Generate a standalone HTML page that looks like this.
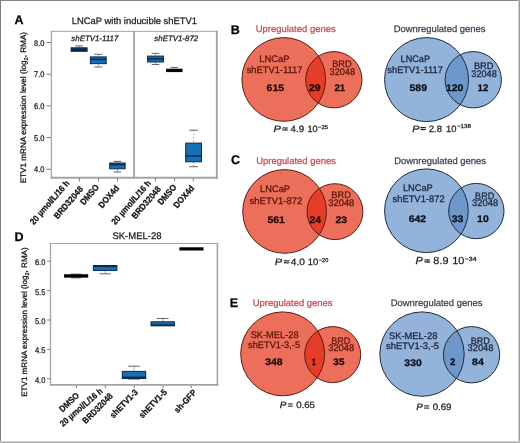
<!DOCTYPE html>
<html><head><meta charset="utf-8"><style>
html,body{margin:0;padding:0;background:#fff;}
svg{display:block;font-family:"Liberation Sans", sans-serif;text-rendering:geometricPrecision;}
</style></head><body>
<svg width="520" height="443" viewBox="0 0 520 443" xmlns="http://www.w3.org/2000/svg">
<rect width="520" height="443" fill="#fff"/>
<g style="filter:blur(0px)">
<rect x="0" y="0" width="1" height="443" fill="#7a7a7a"/>
<rect x="0" y="0" width="520" height="1" fill="#868686"/>
<rect x="518" y="0" width="1" height="443" fill="#cfcfcf"/>
<rect x="519" y="0" width="1" height="443" fill="#9c9c9c"/>
<rect x="0" y="441" width="520" height="1" fill="#d6d6d6"/>
<rect x="0" y="442" width="520" height="1" fill="#a4a4a7"/>
<text x="71.77" y="23.6" font-size="9.45" font-weight="normal" font-style="normal" text-anchor="start" fill="#1a1a1a" stroke="#1a1a1a" stroke-width="0.25" textLength="125.24" lengthAdjust="spacingAndGlyphs">LNCaP with inducible shETV1</text>
<line x1="51.4" y1="30.85" x2="51.4" y2="178.7" stroke="#a4a4a4" stroke-width="1.3"/>
<line x1="50.75" y1="31.35" x2="217.8" y2="31.35" stroke="#a4a4a4" stroke-width="1.0"/>
<line x1="216.85" y1="30.85" x2="216.85" y2="178.7" stroke="#a4a4a4" stroke-width="1.9"/>
<line x1="50.75" y1="177.8" x2="217.8" y2="177.8" stroke="#a4a4a4" stroke-width="1.9"/>
<line x1="134.1" y1="31.35" x2="134.1" y2="177.8" stroke="#a4a4a4" stroke-width="1.8"/>
<line x1="46.4" y1="42.5" x2="51" y2="42.5" stroke="#808080" stroke-width="1"/>
<text x="44.4" y="45.5" font-size="8.2" font-weight="normal" font-style="normal" text-anchor="end" fill="#1a1a1a" stroke="#1a1a1a" stroke-width="0.25" textLength="10.36" lengthAdjust="spacingAndGlyphs">8.0</text>
<line x1="46.4" y1="74.2" x2="51" y2="74.2" stroke="#808080" stroke-width="1"/>
<text x="44.4" y="77.2" font-size="8.2" font-weight="normal" font-style="normal" text-anchor="end" fill="#1a1a1a" stroke="#1a1a1a" stroke-width="0.25" textLength="10.36" lengthAdjust="spacingAndGlyphs">7.0</text>
<line x1="46.4" y1="105.85" x2="51" y2="105.85" stroke="#808080" stroke-width="1"/>
<text x="44.4" y="108.85" font-size="8.2" font-weight="normal" font-style="normal" text-anchor="end" fill="#1a1a1a" stroke="#1a1a1a" stroke-width="0.25" textLength="10.36" lengthAdjust="spacingAndGlyphs">6.0</text>
<line x1="46.4" y1="137.5" x2="51" y2="137.5" stroke="#808080" stroke-width="1"/>
<text x="44.4" y="140.5" font-size="8.2" font-weight="normal" font-style="normal" text-anchor="end" fill="#1a1a1a" stroke="#1a1a1a" stroke-width="0.25" textLength="10.36" lengthAdjust="spacingAndGlyphs">5.0</text>
<line x1="46.4" y1="169.2" x2="51" y2="169.2" stroke="#808080" stroke-width="1"/>
<text x="44.4" y="172.2" font-size="8.2" font-weight="normal" font-style="normal" text-anchor="end" fill="#1a1a1a" stroke="#1a1a1a" stroke-width="0.25" textLength="10.36" lengthAdjust="spacingAndGlyphs">4.0</text>
<text x="0" y="0" font-size="8" font-weight="normal" font-style="normal" text-anchor="middle" fill="#111" stroke="#111" stroke-width="0.25" transform="translate(26 107.66) rotate(-90) scale(1.02 1)">ETV1 mRNA expression level (log<tspan font-size="5.5" dy="1.5">2</tspan><tspan dy="-1.5">, RMA)</tspan></text>
<text x="71.3" y="41.1" font-size="7.9" font-weight="normal" font-style="italic" text-anchor="start" fill="#1a1a1a" stroke="#1a1a1a" stroke-width="0.25" >shETV1-1117</text>
<text x="154.3" y="41.1" font-size="7.9" font-weight="normal" font-style="italic" text-anchor="start" fill="#1a1a1a" stroke="#1a1a1a" stroke-width="0.25" >shETV1-872</text>
<line x1="79.4" y1="178" x2="79.4" y2="181.5" stroke="#808080" stroke-width="1"/>
<line x1="98.4" y1="178" x2="98.4" y2="181.5" stroke="#808080" stroke-width="1"/>
<line x1="117.5" y1="178" x2="117.5" y2="181.5" stroke="#808080" stroke-width="1"/>
<line x1="155.3" y1="178" x2="155.3" y2="181.5" stroke="#808080" stroke-width="1"/>
<line x1="174.6" y1="178" x2="174.6" y2="181.5" stroke="#808080" stroke-width="1"/>
<line x1="193.2" y1="178" x2="193.2" y2="181.5" stroke="#808080" stroke-width="1"/>
<line x1="79.1" y1="45.9" x2="79.1" y2="47.8" stroke="#8a8a8a" stroke-width="0.7" />
<line x1="75.19999999999999" y1="45.9" x2="83.0" y2="45.9" stroke="#4a4a4a" stroke-width="0.85"/>
<rect x="71.1" y="47.8" width="16.0" height="3.5" fill="#123c66" stroke="#0c2a4a" stroke-width="1.0"/>
<line x1="71.1" y1="50.0" x2="87.1" y2="50.0" stroke="#0c2a4a" stroke-width="2.2"/>
<line x1="98.30000000000001" y1="54.3" x2="98.30000000000001" y2="56.9" stroke="#8a8a8a" stroke-width="0.7" />
<line x1="94.30000000000001" y1="54.3" x2="102.30000000000001" y2="54.3" stroke="#4a4a4a" stroke-width="0.85"/>
<line x1="98.30000000000001" y1="63.65" x2="98.30000000000001" y2="67.0" stroke="#8a8a8a" stroke-width="0.7" />
<line x1="94.30000000000001" y1="67.0" x2="102.30000000000001" y2="67.0" stroke="#4a4a4a" stroke-width="0.85"/>
<rect x="90.4" y="56.9" width="15.799999999999997" height="6.75" fill="#1670b5" stroke="#0c2a4a" stroke-width="1.0"/>
<line x1="90.4" y1="59.4" x2="106.2" y2="59.4" stroke="#0c2a4a" stroke-width="1.5"/>
<line x1="117.42500000000001" y1="161.4" x2="117.42500000000001" y2="163.0" stroke="#8a8a8a" stroke-width="0.7" />
<line x1="113.62500000000001" y1="161.4" x2="121.22500000000001" y2="161.4" stroke="#4a4a4a" stroke-width="0.85"/>
<line x1="117.42500000000001" y1="168.8" x2="117.42500000000001" y2="172.0" stroke="#8a8a8a" stroke-width="0.7" />
<line x1="113.62500000000001" y1="172.0" x2="121.22500000000001" y2="172.0" stroke="#4a4a4a" stroke-width="0.85"/>
<rect x="109.7" y="163.0" width="15.450000000000003" height="5.800000000000011" fill="#1670b5" stroke="#0c2a4a" stroke-width="1.0"/>
<line x1="109.7" y1="164.6" x2="125.15" y2="164.6" stroke="#0c2a4a" stroke-width="1.5"/>
<line x1="155.5" y1="53.4" x2="155.5" y2="56.1" stroke="#8a8a8a" stroke-width="0.7" />
<line x1="151.7" y1="53.4" x2="159.3" y2="53.4" stroke="#4a4a4a" stroke-width="0.85"/>
<line x1="155.5" y1="62.0" x2="155.5" y2="64.5" stroke="#8a8a8a" stroke-width="0.7" />
<line x1="151.7" y1="64.5" x2="159.3" y2="64.5" stroke="#4a4a4a" stroke-width="0.85"/>
<rect x="147.6" y="56.1" width="15.800000000000011" height="5.899999999999999" fill="#1670b5" stroke="#0c2a4a" stroke-width="1.0"/>
<line x1="147.6" y1="58.9" x2="163.4" y2="58.9" stroke="#0c2a4a" stroke-width="1.5"/>
<line x1="174.3" y1="67.4" x2="174.3" y2="69.2" stroke="#8a8a8a" stroke-width="0.7" />
<line x1="170.8" y1="67.4" x2="177.8" y2="67.4" stroke="#4a4a4a" stroke-width="0.85"/>
<rect x="166.6" y="69.2" width="15.400000000000006" height="2.3999999999999915" fill="#0a0a0a" stroke="#000" stroke-width="1.0"/>
<line x1="166.6" y1="70.4" x2="182.0" y2="70.4" stroke="#000" stroke-width="1.5"/>
<line x1="193.6" y1="130.2" x2="193.6" y2="143.1" stroke="#555" stroke-width="0.7" stroke-dasharray="1.2,2.2"/>
<line x1="189.2" y1="130.2" x2="198.0" y2="130.2" stroke="#4a4a4a" stroke-width="0.85"/>
<line x1="193.6" y1="161.8" x2="193.6" y2="166.7" stroke="#555" stroke-width="0.7" stroke-dasharray="1.2,2.2"/>
<line x1="189.2" y1="166.7" x2="198.0" y2="166.7" stroke="#4a4a4a" stroke-width="0.85"/>
<rect x="185.7" y="143.1" width="15.800000000000011" height="18.700000000000017" fill="#1670b5" stroke="#0c2a4a" stroke-width="1.0"/>
<line x1="185.7" y1="156" x2="201.5" y2="156" stroke="#0c2a4a" stroke-width="1.5"/>
<text x="70.0" y="183.5" font-size="8.8" font-weight="bold" font-style="normal" text-anchor="end" fill="#111" stroke="#111" stroke-width="0.25" textLength="55.30" lengthAdjust="spacingAndGlyphs" transform="rotate(-49 70.0 183.5)">20 µmol/L/16 h</text>
<text x="83.7" y="189.5" font-size="8.8" font-weight="bold" font-style="normal" text-anchor="end" fill="#111" stroke="#111" stroke-width="0.25" textLength="39.58" lengthAdjust="spacingAndGlyphs" transform="rotate(-49 83.7 189.5)">BRD32048</text>
<text x="99.7" y="187.5" font-size="8.8" font-weight="bold" font-style="normal" text-anchor="end" fill="#111" stroke="#111" stroke-width="0.25" textLength="24.00" lengthAdjust="spacingAndGlyphs" transform="rotate(-49 99.7 187.5)">DMSO</text>
<text x="119.7" y="188.5" font-size="8.8" font-weight="bold" font-style="normal" text-anchor="end" fill="#111" stroke="#111" stroke-width="0.25" textLength="26.67" lengthAdjust="spacingAndGlyphs" transform="rotate(-49 119.7 188.5)">DOX4d</text>
<text x="151.5" y="183.5" font-size="8.8" font-weight="bold" font-style="normal" text-anchor="end" fill="#111" stroke="#111" stroke-width="0.25" textLength="55.30" lengthAdjust="spacingAndGlyphs" transform="rotate(-49 151.5 183.5)">20 µmol/L/16 h</text>
<text x="161.4" y="189.5" font-size="8.8" font-weight="bold" font-style="normal" text-anchor="end" fill="#111" stroke="#111" stroke-width="0.25" textLength="39.58" lengthAdjust="spacingAndGlyphs" transform="rotate(-49 161.4 189.5)">BRD32048</text>
<text x="177.2" y="187.5" font-size="8.8" font-weight="bold" font-style="normal" text-anchor="end" fill="#111" stroke="#111" stroke-width="0.25" textLength="24.00" lengthAdjust="spacingAndGlyphs" transform="rotate(-49 177.2 187.5)">DMSO</text>
<text x="194.8" y="188.5" font-size="8.8" font-weight="bold" font-style="normal" text-anchor="end" fill="#111" stroke="#111" stroke-width="0.25" textLength="26.67" lengthAdjust="spacingAndGlyphs" transform="rotate(-49 194.8 188.5)">DOX4d</text>
<text x="112.42" y="238.5" font-size="9.5" font-weight="normal" font-style="normal" text-anchor="start" fill="#1a1a1a" stroke="#1a1a1a" stroke-width="0.25" textLength="49.24" lengthAdjust="spacingAndGlyphs">SK-MEL-28</text>
<line x1="50.5" y1="243" x2="50.5" y2="385.8" stroke="#a4a4a4" stroke-width="1.3"/>
<line x1="49.85" y1="243.5" x2="218.3" y2="243.5" stroke="#a4a4a4" stroke-width="1.1"/>
<line x1="217.4" y1="243" x2="217.4" y2="385.8" stroke="#a4a4a4" stroke-width="1.6"/>
<line x1="49.85" y1="384.85" x2="218.3" y2="384.85" stroke="#a4a4a4" stroke-width="1.9"/>
<line x1="47.1" y1="261.2" x2="50.3" y2="261.2" stroke="#808080" stroke-width="1"/>
<text x="45.3" y="265.09999999999997" font-size="8.2" font-weight="normal" font-style="normal" text-anchor="end" fill="#1a1a1a" stroke="#1a1a1a" stroke-width="0.25" textLength="10.36" lengthAdjust="spacingAndGlyphs">6.0</text>
<line x1="47.1" y1="290.6" x2="50.3" y2="290.6" stroke="#808080" stroke-width="1"/>
<text x="45.3" y="294.5" font-size="8.2" font-weight="normal" font-style="normal" text-anchor="end" fill="#1a1a1a" stroke="#1a1a1a" stroke-width="0.25" textLength="10.36" lengthAdjust="spacingAndGlyphs">5.5</text>
<line x1="47.1" y1="320.0" x2="50.3" y2="320.0" stroke="#808080" stroke-width="1"/>
<text x="45.3" y="323.9" font-size="8.2" font-weight="normal" font-style="normal" text-anchor="end" fill="#1a1a1a" stroke="#1a1a1a" stroke-width="0.25" textLength="10.36" lengthAdjust="spacingAndGlyphs">5.0</text>
<line x1="47.1" y1="349.4" x2="50.3" y2="349.4" stroke="#808080" stroke-width="1"/>
<text x="45.3" y="353.29999999999995" font-size="8.2" font-weight="normal" font-style="normal" text-anchor="end" fill="#1a1a1a" stroke="#1a1a1a" stroke-width="0.25" textLength="10.36" lengthAdjust="spacingAndGlyphs">4.5</text>
<line x1="47.1" y1="378.8" x2="50.3" y2="378.8" stroke="#808080" stroke-width="1"/>
<text x="45.3" y="382.7" font-size="8.2" font-weight="normal" font-style="normal" text-anchor="end" fill="#1a1a1a" stroke="#1a1a1a" stroke-width="0.25" textLength="10.36" lengthAdjust="spacingAndGlyphs">4.0</text>
<text x="0" y="0" font-size="7.9" font-weight="normal" font-style="normal" text-anchor="middle" fill="#111" stroke="#111" stroke-width="0.25" transform="translate(27 322.05) rotate(-90) scale(1.02 1)">ETV1 mRNA expression level (log<tspan font-size="5.5" dy="1.5">2</tspan><tspan dy="-1.5">, RMA)</tspan></text>
<line x1="76.4" y1="385.5" x2="76.4" y2="388.2" stroke="#808080" stroke-width="1"/>
<line x1="105.4" y1="385.5" x2="105.4" y2="388.2" stroke="#808080" stroke-width="1"/>
<line x1="134.2" y1="385.5" x2="134.2" y2="388.2" stroke="#808080" stroke-width="1"/>
<line x1="163.1" y1="385.5" x2="163.1" y2="388.2" stroke="#808080" stroke-width="1"/>
<line x1="191.3" y1="385.5" x2="191.3" y2="388.2" stroke="#808080" stroke-width="1"/>
<line x1="76.15" y1="274.1" x2="76.15" y2="274.8" stroke="#8a8a8a" stroke-width="0.7" />
<line x1="71.0" y1="274.1" x2="81.30000000000001" y2="274.1" stroke="#4a4a4a" stroke-width="0.85"/>
<line x1="76.15" y1="277.1" x2="76.15" y2="277.9" stroke="#8a8a8a" stroke-width="0.7" />
<line x1="71.0" y1="277.9" x2="81.30000000000001" y2="277.9" stroke="#4a4a4a" stroke-width="0.85"/>
<rect x="64.6" y="274.8" width="23.10000000000001" height="2.3000000000000114" fill="#0a0a0a" stroke="#000" stroke-width="1.0"/>
<line x1="64.6" y1="275.95" x2="87.7" y2="275.95" stroke="#000" stroke-width="1.5"/>
<line x1="105.15" y1="270.4" x2="105.15" y2="273.8" stroke="#8a8a8a" stroke-width="0.7" />
<line x1="99.4" y1="273.8" x2="110.9" y2="273.8" stroke="#4a4a4a" stroke-width="0.85"/>
<rect x="93.4" y="265.5" width="23.5" height="4.899999999999977" fill="#1670b5" stroke="#0c2a4a" stroke-width="1.0"/>
<line x1="93.4" y1="266.3" x2="116.9" y2="266.3" stroke="#0c2a4a" stroke-width="1.5"/>
<line x1="134.0" y1="366.2" x2="134.0" y2="371.4" stroke="#8a8a8a" stroke-width="0.7" />
<line x1="128.2" y1="366.2" x2="139.8" y2="366.2" stroke="#4a4a4a" stroke-width="0.85"/>
<line x1="134.0" y1="378.5" x2="134.0" y2="379.1" stroke="#8a8a8a" stroke-width="0.7" />
<line x1="128.2" y1="379.1" x2="139.8" y2="379.1" stroke="#4a4a4a" stroke-width="0.85"/>
<rect x="122.3" y="371.4" width="23.39999999999999" height="7.100000000000023" fill="#1670b5" stroke="#0c2a4a" stroke-width="1.0"/>
<line x1="122.3" y1="377.3" x2="145.7" y2="377.3" stroke="#0c2a4a" stroke-width="1.5"/>
<line x1="162.7" y1="318.5" x2="162.7" y2="321.8" stroke="#8a8a8a" stroke-width="0.7" />
<line x1="156.85" y1="318.5" x2="168.54999999999998" y2="318.5" stroke="#4a4a4a" stroke-width="0.85"/>
<rect x="151.0" y="321.8" width="23.400000000000006" height="4.050000000000011" fill="#1670b5" stroke="#0c2a4a" stroke-width="1.0"/>
<line x1="151.0" y1="325.0" x2="174.4" y2="325.0" stroke="#0c2a4a" stroke-width="1.5"/>
<rect x="179.9" y="247.85" width="23.099999999999994" height="2.1500000000000057" fill="#0a0a0a" stroke="#000" stroke-width="1.0"/>
<line x1="179.9" y1="248.9" x2="203.0" y2="248.9" stroke="#000" stroke-width="1.5"/>
<text x="79.8" y="396.3" font-size="8.8" font-weight="bold" font-style="normal" text-anchor="end" fill="#111" stroke="#111" stroke-width="0.25" textLength="23.70" lengthAdjust="spacingAndGlyphs" transform="rotate(-43 79.8 396.3)">DMSO</text>
<text x="103.2" y="392.1" font-size="8.8" font-weight="bold" font-style="normal" text-anchor="end" fill="#111" stroke="#111" stroke-width="0.25" textLength="53.22" lengthAdjust="spacingAndGlyphs" transform="rotate(-41 103.2 392.1)">20 µmol/L/16 h</text>
<text x="113.5" y="396.6" font-size="8.8" font-weight="bold" font-style="normal" text-anchor="end" fill="#111" stroke="#111" stroke-width="0.25" textLength="39.08" lengthAdjust="spacingAndGlyphs" transform="rotate(-45 113.5 396.6)">BRD32048</text>
<text x="138.5" y="392.8" font-size="8.8" font-weight="bold" font-style="normal" text-anchor="end" fill="#111" stroke="#111" stroke-width="0.25" textLength="36.00" lengthAdjust="spacingAndGlyphs" transform="rotate(-46 138.5 392.8)">shETV1-3</text>
<text x="167.5" y="392.8" font-size="8.8" font-weight="bold" font-style="normal" text-anchor="end" fill="#111" stroke="#111" stroke-width="0.25" textLength="36.00" lengthAdjust="spacingAndGlyphs" transform="rotate(-46 167.5 392.8)">shETV1-5</text>
<text x="197" y="393" font-size="8.8" font-weight="bold" font-style="normal" text-anchor="end" fill="#111" stroke="#111" stroke-width="0.25" textLength="28.09" lengthAdjust="spacingAndGlyphs" transform="rotate(-47 197 393)">sh-GFP</text>
<text x="14.57" y="24.2" font-size="12.5" font-weight="bold" font-style="normal" text-anchor="start" fill="#000" stroke="#000" stroke-width="0.25" >A</text>
<text x="230.75" y="33.5" font-size="12.5" font-weight="bold" font-style="normal" text-anchor="start" fill="#000" stroke="#000" stroke-width="0.25" >B</text>
<text x="231.05" y="164.4" font-size="12.5" font-weight="bold" font-style="normal" text-anchor="start" fill="#000" stroke="#000" stroke-width="0.25" >C</text>
<text x="14.45" y="240.9" font-size="12.5" font-weight="bold" font-style="normal" text-anchor="start" fill="#000" stroke="#000" stroke-width="0.25" >D</text>
<text x="229.65" y="307.2" font-size="12.5" font-weight="bold" font-style="normal" text-anchor="start" fill="#000" stroke="#000" stroke-width="0.25" >E</text>
<text x="255.72" y="32.2" font-size="9.48" font-weight="normal" font-style="normal" text-anchor="start" fill="#c84a55" stroke="#c84a55" stroke-width="0.25" textLength="79.97" lengthAdjust="spacingAndGlyphs">Upregulated genes</text>
<text x="393.67" y="32.1" font-size="9.48" font-weight="normal" font-style="normal" text-anchor="start" fill="#3a4352" stroke="#3a4352" stroke-width="0.25" textLength="91.80" lengthAdjust="spacingAndGlyphs">Downregulated genes</text>
<text x="256.22" y="163.5" font-size="9.48" font-weight="normal" font-style="normal" text-anchor="start" fill="#c84a55" stroke="#c84a55" stroke-width="0.25" textLength="79.62" lengthAdjust="spacingAndGlyphs">Upregulated genes</text>
<text x="394.27" y="163.8" font-size="9.48" font-weight="normal" font-style="normal" text-anchor="start" fill="#3a4352" stroke="#3a4352" stroke-width="0.25" textLength="91.70" lengthAdjust="spacingAndGlyphs">Downregulated genes</text>
<text x="252.77" y="306.2" font-size="9.48" font-weight="normal" font-style="normal" text-anchor="start" fill="#c84a55" stroke="#c84a55" stroke-width="0.25" textLength="79.82" lengthAdjust="spacingAndGlyphs">Upregulated genes</text>
<text x="390.77" y="306.2" font-size="9.48" font-weight="normal" font-style="normal" text-anchor="start" fill="#3a4352" stroke="#3a4352" stroke-width="0.25" textLength="91.60" lengthAdjust="spacingAndGlyphs">Downregulated genes</text>
<clipPath id="cp1"><circle cx="283.75" cy="79.45" r="41.85"/></clipPath>
<circle cx="283.75" cy="79.45" r="41.85" fill="#ec6f5b"/>
<circle cx="333.85" cy="79.75" r="28.15" fill="#ec6f5b"/>
<circle cx="333.85" cy="79.75" r="28.15" fill="#e63d28" clip-path="url(#cp1)"/>
<circle cx="283.75" cy="79.45" r="41.85" fill="none" stroke="#5a1a12" stroke-width="1"/>
<circle cx="333.85" cy="79.75" r="28.15" fill="none" stroke="#5a1a12" stroke-width="1"/>
<clipPath id="cp2"><circle cx="426.55" cy="79.6" r="42.0"/></clipPath>
<circle cx="426.55" cy="79.6" r="42.0" fill="#93b3da"/>
<circle cx="473.25" cy="79.75" r="28.15" fill="#93b3da"/>
<circle cx="473.25" cy="79.75" r="28.15" fill="#6e97cc" clip-path="url(#cp2)"/>
<circle cx="426.55" cy="79.6" r="42.0" fill="none" stroke="#1e2a3c" stroke-width="1"/>
<circle cx="473.25" cy="79.75" r="28.15" fill="none" stroke="#1e2a3c" stroke-width="1"/>
<clipPath id="cp3"><circle cx="284.55" cy="211.45" r="41.85"/></clipPath>
<circle cx="284.55" cy="211.45" r="41.85" fill="#ec6f5b"/>
<circle cx="334.95" cy="211.65" r="27.95" fill="#ec6f5b"/>
<circle cx="334.95" cy="211.65" r="27.95" fill="#e63d28" clip-path="url(#cp3)"/>
<circle cx="284.55" cy="211.45" r="41.85" fill="none" stroke="#5a1a12" stroke-width="1"/>
<circle cx="334.95" cy="211.65" r="27.95" fill="none" stroke="#5a1a12" stroke-width="1"/>
<clipPath id="cp4"><circle cx="426.4" cy="210.75" r="41.85"/></clipPath>
<circle cx="426.4" cy="210.75" r="41.85" fill="#93b3da"/>
<circle cx="476.35" cy="211.05" r="27.65" fill="#93b3da"/>
<circle cx="476.35" cy="211.05" r="27.65" fill="#6e97cc" clip-path="url(#cp4)"/>
<circle cx="426.4" cy="210.75" r="41.85" fill="none" stroke="#1e2a3c" stroke-width="1"/>
<circle cx="476.35" cy="211.05" r="27.65" fill="none" stroke="#1e2a3c" stroke-width="1"/>
<clipPath id="cp5"><circle cx="282.65" cy="353.85" r="41.95"/></clipPath>
<circle cx="282.65" cy="353.85" r="41.95" fill="#ec6f5b"/>
<circle cx="332.7" cy="354.6" r="28.0" fill="#ec6f5b"/>
<circle cx="332.7" cy="354.6" r="28.0" fill="#e63d28" clip-path="url(#cp5)"/>
<circle cx="282.65" cy="353.85" r="41.95" fill="none" stroke="#5a1a12" stroke-width="1"/>
<circle cx="332.7" cy="354.6" r="28.0" fill="none" stroke="#5a1a12" stroke-width="1"/>
<clipPath id="cp6"><circle cx="422" cy="354.1" r="42.2"/></clipPath>
<circle cx="422" cy="354.1" r="42.2" fill="#93b3da"/>
<circle cx="471.55" cy="354.75" r="28.15" fill="#93b3da"/>
<circle cx="471.55" cy="354.75" r="28.15" fill="#6e97cc" clip-path="url(#cp6)"/>
<circle cx="422" cy="354.1" r="42.2" fill="none" stroke="#1e2a3c" stroke-width="1"/>
<circle cx="471.55" cy="354.75" r="28.15" fill="none" stroke="#1e2a3c" stroke-width="1"/>
<text x="259.27" y="61.6" font-size="9.5" font-weight="normal" font-style="normal" text-anchor="start" fill="#5a1209" stroke="#5a1209" stroke-width="0.25" textLength="30.36" lengthAdjust="spacingAndGlyphs">LNCaP</text>
<text x="246.69" y="72.8" font-size="9.5" font-weight="normal" font-style="normal" text-anchor="start" fill="#5a1209" stroke="#5a1209" stroke-width="0.25" textLength="55.64" lengthAdjust="spacingAndGlyphs">shETV1-1117</text>
<text x="332.18" y="67.2" font-size="9.5" font-weight="normal" font-style="normal" text-anchor="start" fill="#5a1209" stroke="#5a1209" stroke-width="0.25" textLength="19.60" lengthAdjust="spacingAndGlyphs">BRD</text>
<text x="329.61" y="74.9" font-size="9.5" font-weight="normal" font-style="normal" text-anchor="start" fill="#5a1209" stroke="#5a1209" stroke-width="0.25" textLength="25.44" lengthAdjust="spacingAndGlyphs">32048</text>
<text x="266.62" y="90.6" font-size="9.6" font-weight="bold" font-style="normal" text-anchor="start" fill="#1a0604" stroke="#1a0604" stroke-width="0.25" textLength="17.46" lengthAdjust="spacingAndGlyphs">615</text>
<text x="308.94" y="90.6" font-size="9.6" font-weight="bold" font-style="normal" text-anchor="start" fill="#1a0604" stroke="#1a0604" stroke-width="0.25" textLength="11.64" lengthAdjust="spacingAndGlyphs">29</text>
<text x="334.44" y="90.6" font-size="9.6" font-weight="bold" font-style="normal" text-anchor="start" fill="#1a0604" stroke="#1a0604" stroke-width="0.25" textLength="10.68" lengthAdjust="spacingAndGlyphs">21</text>
<text x="400.6" y="62.1" font-size="9.5" font-weight="normal" font-style="normal" text-anchor="start" fill="#18223a" stroke="#18223a" stroke-width="0.25" textLength="29.37" lengthAdjust="spacingAndGlyphs">LNCaP</text>
<text x="387.29" y="73.0" font-size="9.5" font-weight="normal" font-style="normal" text-anchor="start" fill="#18223a" stroke="#18223a" stroke-width="0.25" textLength="55.64" lengthAdjust="spacingAndGlyphs">shETV1-1117</text>
<text x="473.88" y="68.5" font-size="9.5" font-weight="normal" font-style="normal" text-anchor="start" fill="#18223a" stroke="#18223a" stroke-width="0.25" textLength="19.60" lengthAdjust="spacingAndGlyphs">BRD</text>
<text x="471.31" y="76.6" font-size="9.5" font-weight="normal" font-style="normal" text-anchor="start" fill="#18223a" stroke="#18223a" stroke-width="0.25" textLength="25.44" lengthAdjust="spacingAndGlyphs">32048</text>
<text x="409.5" y="90.6" font-size="9.6" font-weight="bold" font-style="normal" text-anchor="start" fill="#080c16" stroke="#080c16" stroke-width="0.25" textLength="17.46" lengthAdjust="spacingAndGlyphs">589</text>
<text x="445.96" y="90.6" font-size="9.6" font-weight="bold" font-style="normal" text-anchor="start" fill="#080c16" stroke="#080c16" stroke-width="0.25" textLength="17.46" lengthAdjust="spacingAndGlyphs">120</text>
<text x="477.6" y="90.6" font-size="9.6" font-weight="bold" font-style="normal" text-anchor="start" fill="#080c16" stroke="#080c16" stroke-width="0.25" textLength="10.68" lengthAdjust="spacingAndGlyphs">12</text>
<text x="260.09" y="191.9" font-size="9.5" font-weight="normal" font-style="normal" text-anchor="start" fill="#5a1209" stroke="#5a1209" stroke-width="0.25" textLength="29.89" lengthAdjust="spacingAndGlyphs">LNCaP</text>
<text x="249.59" y="203.5" font-size="9.5" font-weight="normal" font-style="normal" text-anchor="start" fill="#5a1209" stroke="#5a1209" stroke-width="0.25" textLength="52.75" lengthAdjust="spacingAndGlyphs">shETV1-872</text>
<text x="331.18" y="197.5" font-size="9.5" font-weight="normal" font-style="normal" text-anchor="start" fill="#5a1209" stroke="#5a1209" stroke-width="0.25" textLength="19.76" lengthAdjust="spacingAndGlyphs">BRD</text>
<text x="328.2" y="205.6" font-size="9.5" font-weight="normal" font-style="normal" text-anchor="start" fill="#5a1209" stroke="#5a1209" stroke-width="0.25" textLength="26.16" lengthAdjust="spacingAndGlyphs">32048</text>
<text x="267.41" y="223.1" font-size="9.6" font-weight="bold" font-style="normal" text-anchor="start" fill="#1a0604" stroke="#1a0604" stroke-width="0.25" textLength="17.46" lengthAdjust="spacingAndGlyphs">561</text>
<text x="309.54" y="222.9" font-size="9.6" font-weight="bold" font-style="normal" text-anchor="start" fill="#1a0604" stroke="#1a0604" stroke-width="0.25" textLength="11.64" lengthAdjust="spacingAndGlyphs">24</text>
<text x="335.44" y="222.9" font-size="9.6" font-weight="bold" font-style="normal" text-anchor="start" fill="#1a0604" stroke="#1a0604" stroke-width="0.25" textLength="11.64" lengthAdjust="spacingAndGlyphs">23</text>
<text x="402.94" y="191.35" font-size="9.5" font-weight="normal" font-style="normal" text-anchor="start" fill="#18223a" stroke="#18223a" stroke-width="0.25" textLength="29.79" lengthAdjust="spacingAndGlyphs">LNCaP</text>
<text x="392.49" y="202.3" font-size="9.5" font-weight="normal" font-style="normal" text-anchor="start" fill="#18223a" stroke="#18223a" stroke-width="0.25" textLength="52.14" lengthAdjust="spacingAndGlyphs">shETV1-872</text>
<text x="475.11" y="198.7" font-size="9.5" font-weight="normal" font-style="normal" text-anchor="start" fill="#18223a" stroke="#18223a" stroke-width="0.25" textLength="19.06" lengthAdjust="spacingAndGlyphs">BRD</text>
<text x="472.0" y="206.4" font-size="9.5" font-weight="normal" font-style="normal" text-anchor="start" fill="#18223a" stroke="#18223a" stroke-width="0.25" textLength="26.16" lengthAdjust="spacingAndGlyphs">32048</text>
<text x="408.73" y="221.7" font-size="9.6" font-weight="bold" font-style="normal" text-anchor="start" fill="#080c16" stroke="#080c16" stroke-width="0.25" textLength="17.46" lengthAdjust="spacingAndGlyphs">642</text>
<text x="451.66" y="221.7" font-size="9.6" font-weight="bold" font-style="normal" text-anchor="start" fill="#080c16" stroke="#080c16" stroke-width="0.25" textLength="11.64" lengthAdjust="spacingAndGlyphs">33</text>
<text x="477.12" y="221.7" font-size="9.6" font-weight="bold" font-style="normal" text-anchor="start" fill="#080c16" stroke="#080c16" stroke-width="0.25" textLength="11.64" lengthAdjust="spacingAndGlyphs">10</text>
<text x="250.63" y="337.5" font-size="9.5" font-weight="normal" font-style="normal" text-anchor="start" fill="#5a1209" stroke="#5a1209" stroke-width="0.25" textLength="48.02" lengthAdjust="spacingAndGlyphs">SK-MEL-28</text>
<text x="248.1" y="348.25" font-size="9.5" font-weight="normal" font-style="normal" text-anchor="start" fill="#5a1209" stroke="#5a1209" stroke-width="0.25" textLength="51.93" lengthAdjust="spacingAndGlyphs">shETV1-3,-5</text>
<text x="331.2" y="344.1" font-size="9.5" font-weight="normal" font-style="normal" text-anchor="start" fill="#5a1209" stroke="#5a1209" stroke-width="0.25" textLength="19.17" lengthAdjust="spacingAndGlyphs">BRD</text>
<text x="328.2" y="351.4" font-size="9.5" font-weight="normal" font-style="normal" text-anchor="start" fill="#5a1209" stroke="#5a1209" stroke-width="0.25" textLength="25.95" lengthAdjust="spacingAndGlyphs">32048</text>
<text x="265.16" y="365.1" font-size="9.6" font-weight="bold" font-style="normal" text-anchor="start" fill="#1a0604" stroke="#1a0604" stroke-width="0.25" textLength="17.46" lengthAdjust="spacingAndGlyphs">348</text>
<text x="311.73" y="365.4" font-size="9.6" font-weight="bold" font-style="normal" text-anchor="start" fill="#1a0604" stroke="#1a0604" stroke-width="0.25" textLength="4.00" lengthAdjust="spacingAndGlyphs">1</text>
<text x="333.38" y="365.1" font-size="9.6" font-weight="bold" font-style="normal" text-anchor="start" fill="#1a0604" stroke="#1a0604" stroke-width="0.25" textLength="11.11" lengthAdjust="spacingAndGlyphs">35</text>
<text x="388.98" y="338.6" font-size="9.5" font-weight="normal" font-style="normal" text-anchor="start" fill="#18223a" stroke="#18223a" stroke-width="0.25" textLength="48.38" lengthAdjust="spacingAndGlyphs">SK-MEL-28</text>
<text x="386.04" y="349.3" font-size="9.5" font-weight="normal" font-style="normal" text-anchor="start" fill="#18223a" stroke="#18223a" stroke-width="0.25" textLength="53.05" lengthAdjust="spacingAndGlyphs">shETV1-3,-5</text>
<text x="470.65" y="343.55" font-size="9.5" font-weight="normal" font-style="normal" text-anchor="start" fill="#18223a" stroke="#18223a" stroke-width="0.25" textLength="19.12" lengthAdjust="spacingAndGlyphs">BRD</text>
<text x="467.6" y="351.4" font-size="9.5" font-weight="normal" font-style="normal" text-anchor="start" fill="#18223a" stroke="#18223a" stroke-width="0.25" textLength="25.85" lengthAdjust="spacingAndGlyphs">32048</text>
<text x="404.32" y="365.75" font-size="9.6" font-weight="bold" font-style="normal" text-anchor="start" fill="#080c16" stroke="#080c16" stroke-width="0.25" textLength="17.46" lengthAdjust="spacingAndGlyphs">330</text>
<text x="450.05" y="365.45" font-size="9.6" font-weight="bold" font-style="normal" text-anchor="start" fill="#080c16" stroke="#080c16" stroke-width="0.25" textLength="5.34" lengthAdjust="spacingAndGlyphs">2</text>
<text x="472.1" y="365.45" font-size="9.6" font-weight="bold" font-style="normal" text-anchor="start" fill="#080c16" stroke="#080c16" stroke-width="0.25" textLength="11.64" lengthAdjust="spacingAndGlyphs">84</text>
<text x="273.62" y="132.4" font-size="9.2" font-weight="normal" font-style="italic" text-anchor="start" fill="#1c1c1c" stroke="#1c1c1c" stroke-width="0.25" textLength="7.41" lengthAdjust="spacingAndGlyphs">P</text>
<path d="M282.35,128.22 Q283.70,127.52 285.05,127.97 T287.75,127.72" fill="none" stroke="#1c1c1c" stroke-width="1.15"/>
<path d="M282.35,130.18 Q283.70,129.48 285.05,129.93 T287.75,129.68" fill="none" stroke="#1c1c1c" stroke-width="1.15"/>
<text x="290.63" y="132.4" font-size="9.2" font-weight="normal" font-style="normal" text-anchor="start" fill="#1c1c1c" stroke="#1c1c1c" stroke-width="0.25" textLength="13.56" lengthAdjust="spacingAndGlyphs">4.9</text>
<text x="307.47" y="132.4" font-size="9.2" font-weight="normal" font-style="normal" text-anchor="start" fill="#1c1c1c" stroke="#1c1c1c" stroke-width="0.25" textLength="10.15" lengthAdjust="spacingAndGlyphs">10</text>
<text x="317.84" y="129.1" font-size="5.6" font-weight="normal" font-style="normal" text-anchor="start" fill="#1c1c1c" stroke="#1c1c1c" stroke-width="0.25" textLength="10.46" lengthAdjust="spacingAndGlyphs">−25</text>
<text x="412.23" y="131.8" font-size="9.2" font-weight="normal" font-style="italic" text-anchor="start" fill="#1c1c1c" stroke="#1c1c1c" stroke-width="0.25" textLength="7.20" lengthAdjust="spacingAndGlyphs">P</text>
<path d="M420.50,127.88 Q421.85,127.17 423.20,127.62 T425.90,127.38" fill="none" stroke="#1c1c1c" stroke-width="1.15"/>
<path d="M420.50,129.83 Q421.85,129.13 423.20,129.58 T425.90,129.33" fill="none" stroke="#1c1c1c" stroke-width="1.15"/>
<text x="428.77" y="131.8" font-size="9.2" font-weight="normal" font-style="normal" text-anchor="start" fill="#1c1c1c" stroke="#1c1c1c" stroke-width="0.25" textLength="13.39" lengthAdjust="spacingAndGlyphs">2.8</text>
<text x="445.94" y="131.8" font-size="9.2" font-weight="normal" font-style="normal" text-anchor="start" fill="#1c1c1c" stroke="#1c1c1c" stroke-width="0.25" textLength="10.48" lengthAdjust="spacingAndGlyphs">10</text>
<text x="456.94" y="128.2" font-size="5.6" font-weight="normal" font-style="normal" text-anchor="start" fill="#1c1c1c" stroke="#1c1c1c" stroke-width="0.25" textLength="14.08" lengthAdjust="spacingAndGlyphs">−138</text>
<text x="274.72" y="265.1" font-size="9.2" font-weight="normal" font-style="italic" text-anchor="start" fill="#1c1c1c" stroke="#1c1c1c" stroke-width="0.25" textLength="7.31" lengthAdjust="spacingAndGlyphs">P</text>
<path d="M283.90,261.07 Q285.25,260.38 286.60,260.82 T289.30,260.57" fill="none" stroke="#1c1c1c" stroke-width="1.15"/>
<path d="M283.90,263.03 Q285.25,262.33 286.60,262.78 T289.30,262.53" fill="none" stroke="#1c1c1c" stroke-width="1.15"/>
<text x="290.82" y="265.1" font-size="9.2" font-weight="normal" font-style="normal" text-anchor="start" fill="#1c1c1c" stroke="#1c1c1c" stroke-width="0.25" textLength="14.11" lengthAdjust="spacingAndGlyphs">4.0</text>
<text x="307.84" y="265.1" font-size="9.2" font-weight="normal" font-style="normal" text-anchor="start" fill="#1c1c1c" stroke="#1c1c1c" stroke-width="0.25" textLength="10.48" lengthAdjust="spacingAndGlyphs">10</text>
<text x="318.77" y="261.8" font-size="5.6" font-weight="normal" font-style="normal" text-anchor="start" fill="#1c1c1c" stroke="#1c1c1c" stroke-width="0.25" textLength="9.50" lengthAdjust="spacingAndGlyphs">−20</text>
<text x="415.42" y="264.4" font-size="10.2" font-weight="normal" font-style="italic" text-anchor="start" fill="#1c1c1c" stroke="#1c1c1c" stroke-width="0.25" textLength="7.31" lengthAdjust="spacingAndGlyphs">P</text>
<path d="M424.40,260.17 Q425.75,259.47 427.10,259.92 T429.80,259.67" fill="none" stroke="#1c1c1c" stroke-width="1.15"/>
<path d="M424.40,262.12 Q425.75,261.43 427.10,261.88 T429.80,261.62" fill="none" stroke="#1c1c1c" stroke-width="1.15"/>
<text x="433.39" y="264.4" font-size="10.2" font-weight="normal" font-style="normal" text-anchor="start" fill="#1c1c1c" stroke="#1c1c1c" stroke-width="0.25" textLength="15.05" lengthAdjust="spacingAndGlyphs">8.9</text>
<text x="452.23" y="264.4" font-size="10.2" font-weight="normal" font-style="normal" text-anchor="start" fill="#1c1c1c" stroke="#1c1c1c" stroke-width="0.25" textLength="12.15" lengthAdjust="spacingAndGlyphs">10</text>
<text x="464.8" y="260.8" font-size="6.0" font-weight="normal" font-style="normal" text-anchor="start" fill="#1c1c1c" stroke="#1c1c1c" stroke-width="0.25" textLength="11.85" lengthAdjust="spacingAndGlyphs">−34</text>
<text x="279.65" y="408.2" font-size="9.2" font-weight="normal" font-style="italic" text-anchor="start" fill="#1c1c1c" stroke="#1c1c1c" stroke-width="0.25" textLength="6.56" lengthAdjust="spacingAndGlyphs">P</text>
<text x="287.72" y="408.2" font-size="9.2" font-weight="normal" font-style="normal" text-anchor="start" fill="#1c1c1c" stroke="#1c1c1c" stroke-width="0.25" textLength="5.27" lengthAdjust="spacingAndGlyphs">=</text>
<text x="296.16" y="408.2" font-size="9.2" font-weight="normal" font-style="normal" text-anchor="start" fill="#1c1c1c" stroke="#1c1c1c" stroke-width="0.25" textLength="18.79" lengthAdjust="spacingAndGlyphs">0.65</text>
<text x="416.25" y="409.8" font-size="9.2" font-weight="normal" font-style="italic" text-anchor="start" fill="#1c1c1c" stroke="#1c1c1c" stroke-width="0.25" textLength="6.56" lengthAdjust="spacingAndGlyphs">P</text>
<text x="423.88" y="409.8" font-size="9.2" font-weight="normal" font-style="normal" text-anchor="start" fill="#1c1c1c" stroke="#1c1c1c" stroke-width="0.25" textLength="5.75" lengthAdjust="spacingAndGlyphs">=</text>
<text x="432.66" y="409.8" font-size="9.2" font-weight="normal" font-style="normal" text-anchor="start" fill="#1c1c1c" stroke="#1c1c1c" stroke-width="0.25" textLength="18.84" lengthAdjust="spacingAndGlyphs">0.69</text>
</g>
</svg>
</body></html>
